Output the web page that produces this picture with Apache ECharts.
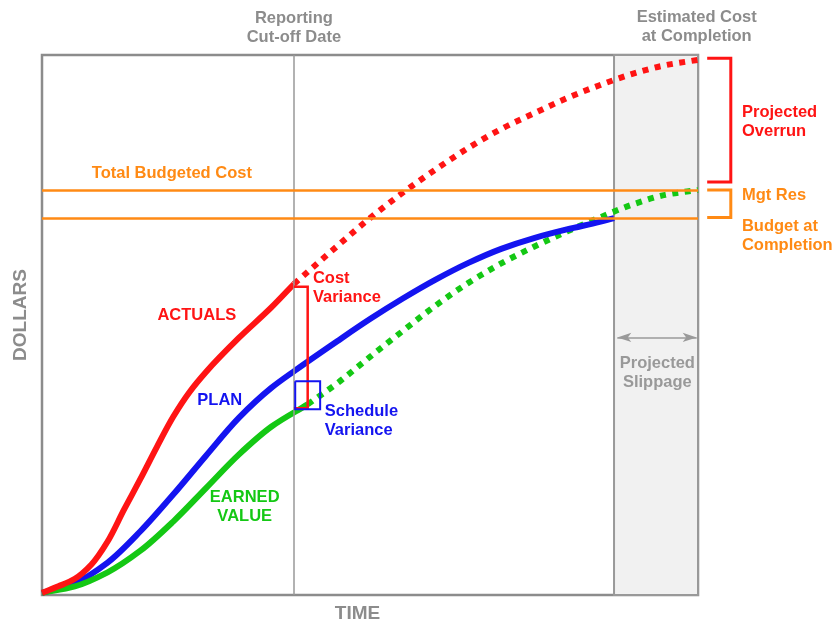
<!DOCTYPE html>
<html>
<head>
<meta charset="utf-8">
<script src="https://cdn.jsdelivr.net/npm/echarts@6/dist/echarts.min.js"></script>
<style>
  html, body { margin: 0; padding: 0; background: #fff; }
  #chart { width: 835px; height: 628px; }
</style>
</head>
<body>
<div id="chart"></div>
<script>
// Earned value management: time (0-100) vs. dollars (0-100, % of scale)
const actualCost = [[0,0.4],[2.5,1.6],[5,3.0],[7.5,5.6],[10,9.9],[12.5,15.8],[15,21.5],[17.5,27.4],[20,33.0],[22.5,37.6],[25,41.3],[30,47.6],[35,53.3],[38.4,57.6]];
const actualProjected = [[38.4,57.6],[45,64.6],[50,69.8],[55,74.5],[60,78.8],[65,82.8],[70,86.3],[75,89.2],[80,92.0],[85,94.4],[90,96.5],[95,98.1],[100,99.1]];
const plannedValue = [[0,0.4],[5,2.2],[10,6.0],[15,11.8],[20,18.6],[25,25.8],[30,32.8],[35,38.4],[38.6,41.6],[45,47.0],[50,51.1],[55,54.9],[60,58.4],[65,61.5],[70,64.1],[75,66.1],[80,67.7],[85,69.1],[87.2,69.8]];
const earnedValue = [[0,0.4],[5,1.6],[10,4.2],[15,8.2],[20,13.6],[25,19.8],[30,26.0],[35,31.2],[40.5,35.3]];
const earnedProjected = [[40.5,35.3],[45,39.2],[50,44.1],[55,48.9],[60,53.6],[65,57.8],[70,61.4],[75,64.5],[80,67.3],[85,69.9],[90,72.3],[95,74.1],[100,75.0]];

const totalBudgetedCost = 75.0;
const budgetAtCompletion = 69.8;
const cutoffTime = 38.4;
const plannedFinish = 87.2;
const forecastFinish = 100;

// bracket outlines (time, dollars)
const costVarianceBracket = [[38.4,57.1],[40.5,57.1],[40.5,34.6],[38.4,34.6]];
const scheduleVarianceBox = [[38.6,39.6],[42.4,39.6],[42.4,34.4],[38.6,34.4],[38.6,39.6]];
const overrunBracket = [[101.4,99.4],[105,99.4],[105,76.5],[101.4,76.5]];
const reserveBracket = [[101.4,75.0],[105,75.0],[105,69.9],[101.4,69.9]];
const slippageArrowY = 47.7;

const RED = '#ff1414', BLUE = '#1414f0', GREEN = '#14c814', ORANGE = '#ff8a14', GRAY = '#8c8c8c';
const FONT = '"Liberation Sans", Arial, sans-serif';

// annotation text: [time, dollars, text, color, align]
const notes = [
  [38.4, 105.0, 'Reporting\nCut-off Date', GRAY, 'center'],
  [99.8, 105.2, 'Estimated Cost\nat Completion', GRAY, 'center'],
  [19.8, 78.0, 'Total Budgeted Cost', ORANGE, 'center'],
  [106.7, 87.6, 'Projected\nOverrun', RED, 'left'],
  [106.7, 73.9, 'Mgt Res', ORANGE, 'left'],
  [106.7, 66.5, 'Budget at\nCompletion', ORANGE, 'left'],
  [23.6, 51.8, 'ACTUALS', RED, 'center'],
  [27.1, 36.0, 'PLAN', BLUE, 'center'],
  [30.9, 16.3, 'EARNED\nVALUE', GREEN, 'center'],
  [41.3, 56.9, 'Cost\nVariance', RED, 'left'],
  [43.1, 32.2, 'Schedule\nVariance', BLUE, 'left'],
  [93.8, 41.2, 'Projected\nSlippage', '#999999', 'center']
];

const chart = echarts.init(document.getElementById('chart'), null, { renderer: 'canvas' });

// Monotone cubic (Fritsch-Butland) path through pixel points
function monotonePath(pts) {
  const n = pts.length;
  const h = [], d = [];
  for (let i = 0; i < n - 1; i++) {
    h.push(pts[i + 1][0] - pts[i][0]);
    d.push((pts[i + 1][1] - pts[i][1]) / h[i]);
  }
  const m = new Array(n);
  m[0] = d[0];
  m[n - 1] = d[n - 2];
  for (let i = 1; i < n - 1; i++) {
    if (d[i - 1] * d[i] <= 0) { m[i] = 0; continue; }
    const h0 = h[i - 1], h1 = h[i];
    m[i] = 3 * (h0 + h1) / ((2 * h1 + h0) / d[i - 1] + (h1 + 2 * h0) / d[i]);
  }
  let path = 'M' + pts[0][0] + ' ' + pts[0][1];
  for (let i = 0; i < n - 1; i++) {
    const t = h[i] / 3;
    path += ' C' + (pts[i][0] + t) + ' ' + (pts[i][1] + m[i] * t) + ' ' +
      (pts[i + 1][0] - t) + ' ' + (pts[i + 1][1] - m[i + 1] * t) + ' ' +
      pts[i + 1][0] + ' ' + pts[i + 1][1];
  }
  return path;
}

function curve(name, data, color, dotted) {
  return {
    name, type: 'custom', coordinateSystem: 'cartesian2d', data: [[data[0][0], data[0][1]]], z: 3, silent: true,
    renderItem: (params, api) => ({
      type: 'path',
      shape: { pathData: monotonePath(data.map(p => api.coord(p))) },
      style: { stroke: color, lineWidth: 6, fill: 'none', lineDash: dotted ? [6, 6.5] : null, lineCap: 'butt' }
    })
  };
}

chart.setOption({
  animation: false,
  backgroundColor: '#ffffff',
  grid: { left: 42, top: 55, width: 656, height: 541, show: true, borderColor: GRAY, borderWidth: 2.5, backgroundColor: '#ffffff' },
  xAxis: {
    type: 'value', min: 0, max: 100, name: 'TIME', nameLocation: 'middle', nameGap: 9,
    nameTextStyle: { color: GRAY, fontSize: 19, fontWeight: 'bold', fontFamily: FONT, verticalAlign: 'top', padding: [0, 25, 0, 0] },
    axisLine: { show: false }, axisTick: { show: false }, axisLabel: { show: false }, splitLine: { show: false }
  },
  yAxis: {
    type: 'value', min: 0, max: 100, name: 'DOLLARS', nameLocation: 'middle', nameGap: 12,
    nameTextStyle: { color: GRAY, fontSize: 19, fontWeight: 'bold', fontFamily: FONT, padding: [0, 0, 0, 20] },
    axisLine: { show: false }, axisTick: { show: false }, axisLabel: { show: false }, splitLine: { show: false }
  },
  series: [
    {
      name: 'reference', type: 'line', data: [], z: 1, silent: true,
      markArea: {
        silent: true,
        itemStyle: { color: '#f1f1f1', borderColor: '#999999', borderWidth: 2 },
        data: [[{ xAxis: plannedFinish }, { xAxis: forecastFinish }]]
      },
      markLine: {
        silent: true, symbol: 'none', label: { show: false },
        data: [
          { xAxis: cutoffTime, lineStyle: { color: '#999999', width: 1.5, type: 'solid' } },
          { yAxis: totalBudgetedCost, lineStyle: { color: ORANGE, width: 2.5, type: 'solid' } },
          { yAxis: budgetAtCompletion, lineStyle: { color: ORANGE, width: 2.5, type: 'solid' } }
        ]
      }
    },
    {
      name: 'slippage', type: 'line', data: [], z: 2, silent: true,
      markLine: {
        silent: true, symbol: ['arrow', 'arrow'], symbolSize: [7, 14], label: { show: false },
        lineStyle: { color: '#9a9a9a', width: 1.5, type: 'solid' },
        data: [[{ coord: [87.7, slippageArrowY] }, { coord: [99.8, slippageArrowY] }]]
      }
    },
    curve('Earned Value (projected)', earnedProjected, GREEN, true),
    curve('Actuals (projected)', actualProjected, RED, true),
    curve('Plan', plannedValue, BLUE, false),
    curve('Earned Value', earnedValue, GREEN, false),
    curve('Actuals', actualCost, RED, false)
  ]
});

const toPx = pt => chart.convertToPixel({ gridIndex: 0 }, pt);

// brackets drawn as polylines through the grid's coordinate system
const brackets = [
  [costVarianceBracket, RED, 2.5],
  [scheduleVarianceBox, BLUE, 2],
  [overrunBracket, RED, 3],
  [reserveBracket, ORANGE, 3]
].map(b => ({
  type: 'polyline', z: 6, silent: true,
  shape: { points: b[0].map(toPx) },
  style: { stroke: b[1], lineWidth: b[2], fill: null, lineJoin: 'miter', lineCap: 'butt' }
}));

const labels = notes.map(n => {
  const p = toPx([n[0], n[1]]);
  return {
    type: 'text', x: p[0], y: p[1], z: 10, silent: true,
    style: {
      text: n[2], fill: n[3], font: 'bold 16.5px ' + FONT,
      align: n[4], verticalAlign: 'middle', lineHeight: 19
    }
  };
});
chart.setOption({ graphic: brackets.concat(labels) });
</script>
</body>
</html>
